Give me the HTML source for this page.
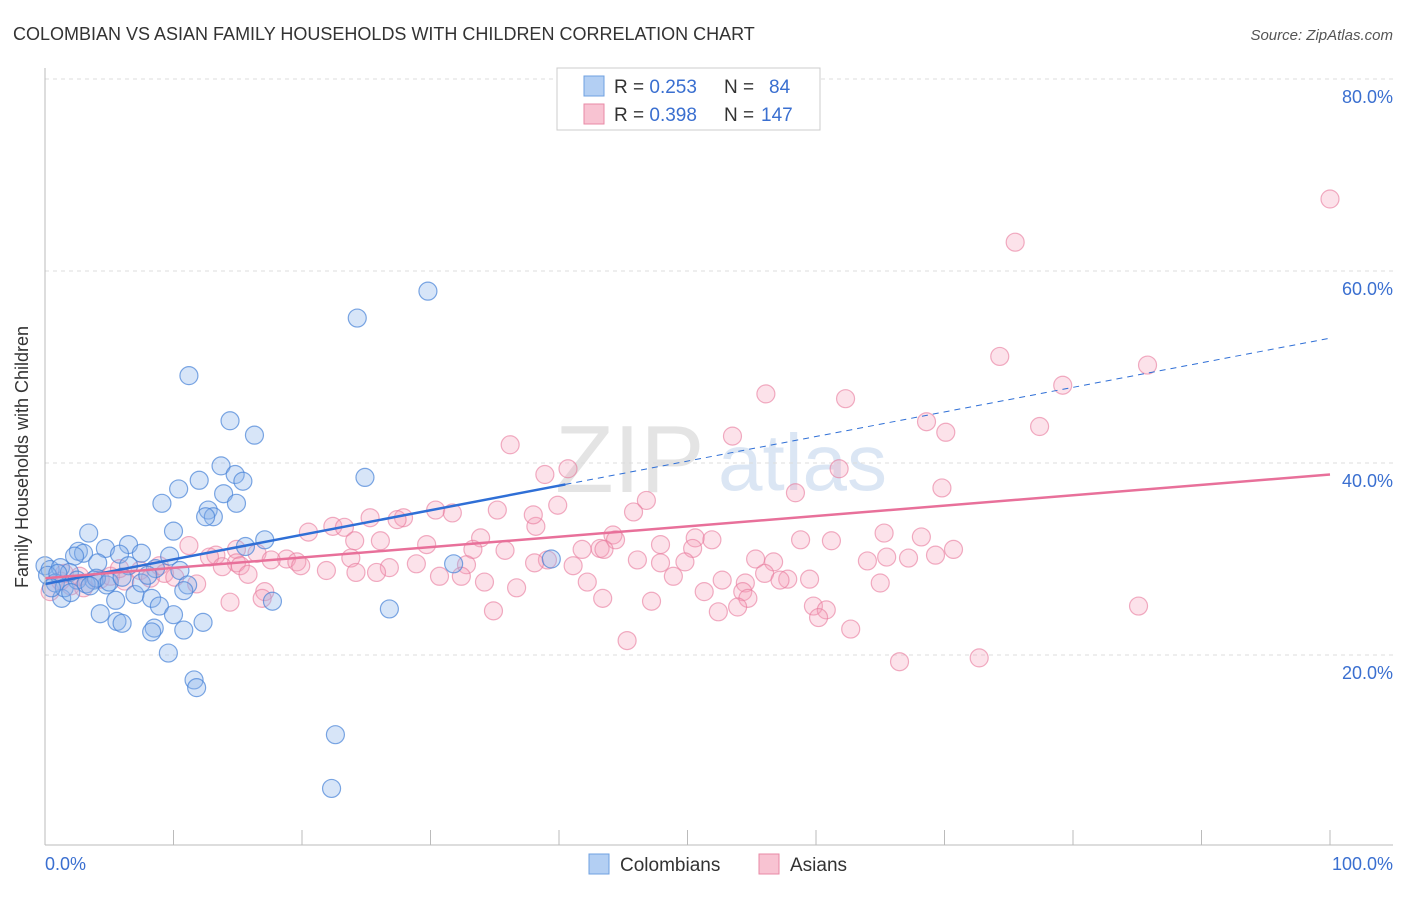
<!DOCTYPE html>
<html><head><meta charset="utf-8"><style>
body{margin:0;background:#fff;font-family:"Liberation Sans",sans-serif;}
svg text{font-family:"Liberation Sans",sans-serif;}
</style></head><body>
<svg id="chart" width="1406" height="892">
<text x="13" y="40" font-size="18" fill="#333">COLOMBIAN VS ASIAN FAMILY HOUSEHOLDS WITH CHILDREN CORRELATION CHART</text>
<text x="1393" y="40" font-size="15" fill="#555" font-style="italic" text-anchor="end">Source: ZipAtlas.com</text>
<g><text x="555" y="492" font-size="96" font-family="Liberation Serif" fill="#e4e4e4">ZIP</text><text x="718" y="490" font-size="80" fill="#dbe6f4">atlas</text></g>
<g id="grid"></g>
<g id="pts"></g>
<g id="lines"></g>
<line x1="45" y1="68" x2="45" y2="845" stroke="#bbb"/>
<line x1="45" y1="845" x2="1393" y2="845" stroke="#bbb"/>
<text x="28" y="457" font-size="18" fill="#333" text-anchor="middle" transform="rotate(-90 28 457)">Family Households with Children</text>
<text x="45" y="870" font-size="18" fill="#3a6fd0">0.0%</text>
<text x="1393" y="870" font-size="18" fill="#3a6fd0" text-anchor="end">100.0%</text>
<g>
<rect x="557" y="68" width="263" height="62" fill="#fff" stroke="#ccc"/>
<rect x="584" y="76" width="20" height="20" fill="#b3cff3" stroke="#6fa0e0"/>
<rect x="584" y="104" width="20" height="20" fill="#f8c3d2" stroke="#e88aa6"/>
<text x="614" y="93" font-size="19" fill="#333">R = <tspan fill="#3a6fd0">0.253</tspan><tspan x="724">N = </tspan><tspan x="769" fill="#3a6fd0">84</tspan></text>
<text x="614" y="121" font-size="19" fill="#333">R = <tspan fill="#3a6fd0">0.398</tspan><tspan x="724">N = </tspan><tspan x="761" fill="#3a6fd0">147</tspan></text>
</g>
<g>
<rect x="589" y="854" width="20" height="20" fill="#b3cff3" stroke="#6fa0e0"/>
<text x="620" y="871" font-size="19" fill="#333">Colombians</text>
<rect x="759" y="854" width="20" height="20" fill="#f8c3d2" stroke="#e88aa6"/>
<text x="790" y="871" font-size="19" fill="#333">Asians</text>
</g>
</svg>
<script>
const yTicks=[20,40,60,80];
const yTickLabels=["20.0%","40.0%","60.0%","80.0%"];
const xTicks=[0,10,20,30,40,50,60,70,80,90,100];
const blueX=[29.8,24.3,11.2,14.4,16.3,13.7,24.9,14.8,15.4,12.0,10.4,13.9,9.1,14.9,12.7,13.1,12.5,10.0,3.4,17.1,6.5,15.6,4.7,2.6,3.0,9.7,5.8,7.5,2.3,39.4,31.8,4.1,0,6.5,8.6,10.5,0.4,1.2,1.9,11.1,4.8,3.8,7.0,1.3,5.5,8.3,8.9,10.8,4.3,5.6,6.0,10.0,12.3,8.5,8.3,10.8,9.6,11.6,11.8,22.6,22.3,26.8,17.7,0.2,0.8,1.5,2.5,3.2,4.0,5.0,6.0,7.5,8.0,1.0,2.0,3.5,0.5];
const blueY=[57.9,55.1,49.1,44.4,42.9,39.7,38.5,38.8,38.1,38.2,37.3,36.8,35.8,35.8,35.1,34.4,34.4,32.9,32.7,32.0,31.5,31.3,31.1,30.8,30.6,30.3,30.5,30.6,30.3,30.0,29.5,29.6,29.3,29.3,29.0,28.8,28.9,29.1,28.6,27.3,27.3,27.8,26.3,25.9,25.7,25.9,25.1,26.7,24.3,23.5,23.3,24.2,23.4,22.8,22.4,22.6,20.2,17.4,16.6,11.7,6.1,24.8,25.6,28.3,27.5,27.0,27.8,27.4,28.0,27.6,28.1,27.5,28.3,28.5,26.5,27.2,27.0];
const pinkX=[100,75.5,74.3,85.8,79.2,56.1,62.3,68.6,77.4,70.1,53.5,36.2,40.7,38.9,61.8,69.8,58.4,46.8,39.9,30.4,31.7,35.2,45.8,27.9,27.4,25.3,22.4,23.3,20.5,38.2,38.0,33.9,44.2,44.4,50.6,51.9,58.8,65.3,68.2,61.2,43.2,41.8,43.5,47.9,50.4,24.1,26.1,29.7,33.3,35.8,70.7,11.2,14.9,16.5,13.3,12.8,69.3,65.5,67.2,64.0,55.3,56.7,49.8,47.9,41.1,46.1,39.1,38.1,32.8,28.9,23.8,18.8,19.6,17.6,14.9,13.8,15.2,8.9,26.8,24.2,21.9,56.0,57.8,57.2,52.7,48.9,54.5,42.2,34.2,32.4,30.7,25.8,19.9,15.8,65.0,59.5,51.3,54.3,54.7,36.7,43.4,11.8,17.1,16.9,14.4,47.2,59.8,60.8,60.2,85.1,34.9,52.4,53.9,62.7,45.3,66.5,72.7,0.4,1.2,2.0,2.7,4.3,5.1,6.2,7.4,8.2,9.3,10.1,5.8,3.0,1.5];
const pinkY=[67.5,63.0,51.1,50.2,48.1,47.2,46.7,44.3,43.8,43.2,42.8,41.9,39.4,38.8,39.4,37.4,36.9,36.1,35.6,35.1,34.8,35.1,34.9,34.3,34.1,34.3,33.4,33.3,32.8,33.4,34.6,32.2,32.5,32.0,32.2,32.0,32.0,32.7,32.3,31.9,31.1,31.0,31.0,31.5,31.1,31.9,31.9,31.5,31.0,30.9,31.0,31.4,31.0,30.6,30.4,30.2,30.4,30.2,30.1,29.8,30.0,29.7,29.7,29.6,29.3,29.9,29.9,29.6,29.4,29.5,30.1,30.0,29.7,29.9,29.6,29.2,29.3,29.3,29.1,28.6,28.8,28.5,27.9,27.8,27.8,28.2,27.5,27.6,27.6,28.2,28.2,28.6,29.3,28.4,27.5,27.9,26.6,26.6,25.9,27.0,25.9,27.4,26.6,25.9,25.5,25.6,25.1,24.7,23.9,25.1,24.6,24.5,25.0,22.7,21.5,19.3,19.7,26.6,27.7,27.2,28.2,27.9,28.2,27.7,28.8,28.0,28.5,28.1,29.0,27.0,28.5];
const blueTrend=[27.4,53.0];
const blueSolidEnd=40.5;
const pinkTrend=[28.0,38.8];
const NS="http://www.w3.org/2000/svg";
function sx(v){return 45+v*12.85;}
function sy(v){return 847-v*9.6;}
function mk(tag,attrs,parent){const e=document.createElementNS(NS,tag);for(const k in attrs)e.setAttribute(k,attrs[k]);parent.appendChild(e);return e;}
const grid=document.getElementById('grid');
yTicks.forEach((t,i)=>{
 const l=mk('line',{x1:45,x2:1393,y1:sy(t),y2:sy(t),stroke:'#ddd','stroke-dasharray':'4 4'},grid);
 
 
 const tx=mk('text',{x:1393,y:sy(t)+24,'font-size':18,fill:'#3a6fd0','text-anchor':'end'},grid);
 tx.textContent=yTickLabels[i];
 
 
});
xTicks.forEach(t=>{
 const l=mk('line',{x1:sx(t),x2:sx(t),y1:830,y2:845,stroke:'#bbb'},grid);
 
 
});
const pts=document.getElementById('pts');
pinkX.forEach((x,i)=>{
 const c=mk('circle',{cx:sx(x),cy:sy(pinkY[i]),r:9,fill:'rgba(244,160,186,0.3)',stroke:'rgba(232,120,155,0.6)','stroke-width':1.2},pts);
 
 
});
blueX.forEach((x,i)=>{
 const c=mk('circle',{cx:sx(x),cy:sy(blueY[i]),r:9,fill:'rgba(140,180,235,0.35)',stroke:'rgba(70,130,215,0.7)','stroke-width':1.2},pts);
 
 
});
const lines=document.getElementById('lines');
function by(t,x){return t[0]+(t[1]-t[0])*x/100;}
let l1=mk('line',{x1:sx(0),y1:sy(by(blueTrend,0)),x2:sx(blueSolidEnd),y2:sy(by(blueTrend,blueSolidEnd)),stroke:'#2f6fd6','stroke-width':2.5},lines);


let l2=mk('line',{x1:sx(blueSolidEnd),y1:sy(by(blueTrend,blueSolidEnd)),x2:sx(100),y2:sy(by(blueTrend,100)),stroke:'#2f6fd6','stroke-width':1,'stroke-dasharray':'6 5'},lines);


let l3=mk('line',{x1:sx(0),y1:sy(by(pinkTrend,0)),x2:sx(100),y2:sy(by(pinkTrend,100)),stroke:'#e8709a','stroke-width':2.5},lines);


</script>
</body></html>
